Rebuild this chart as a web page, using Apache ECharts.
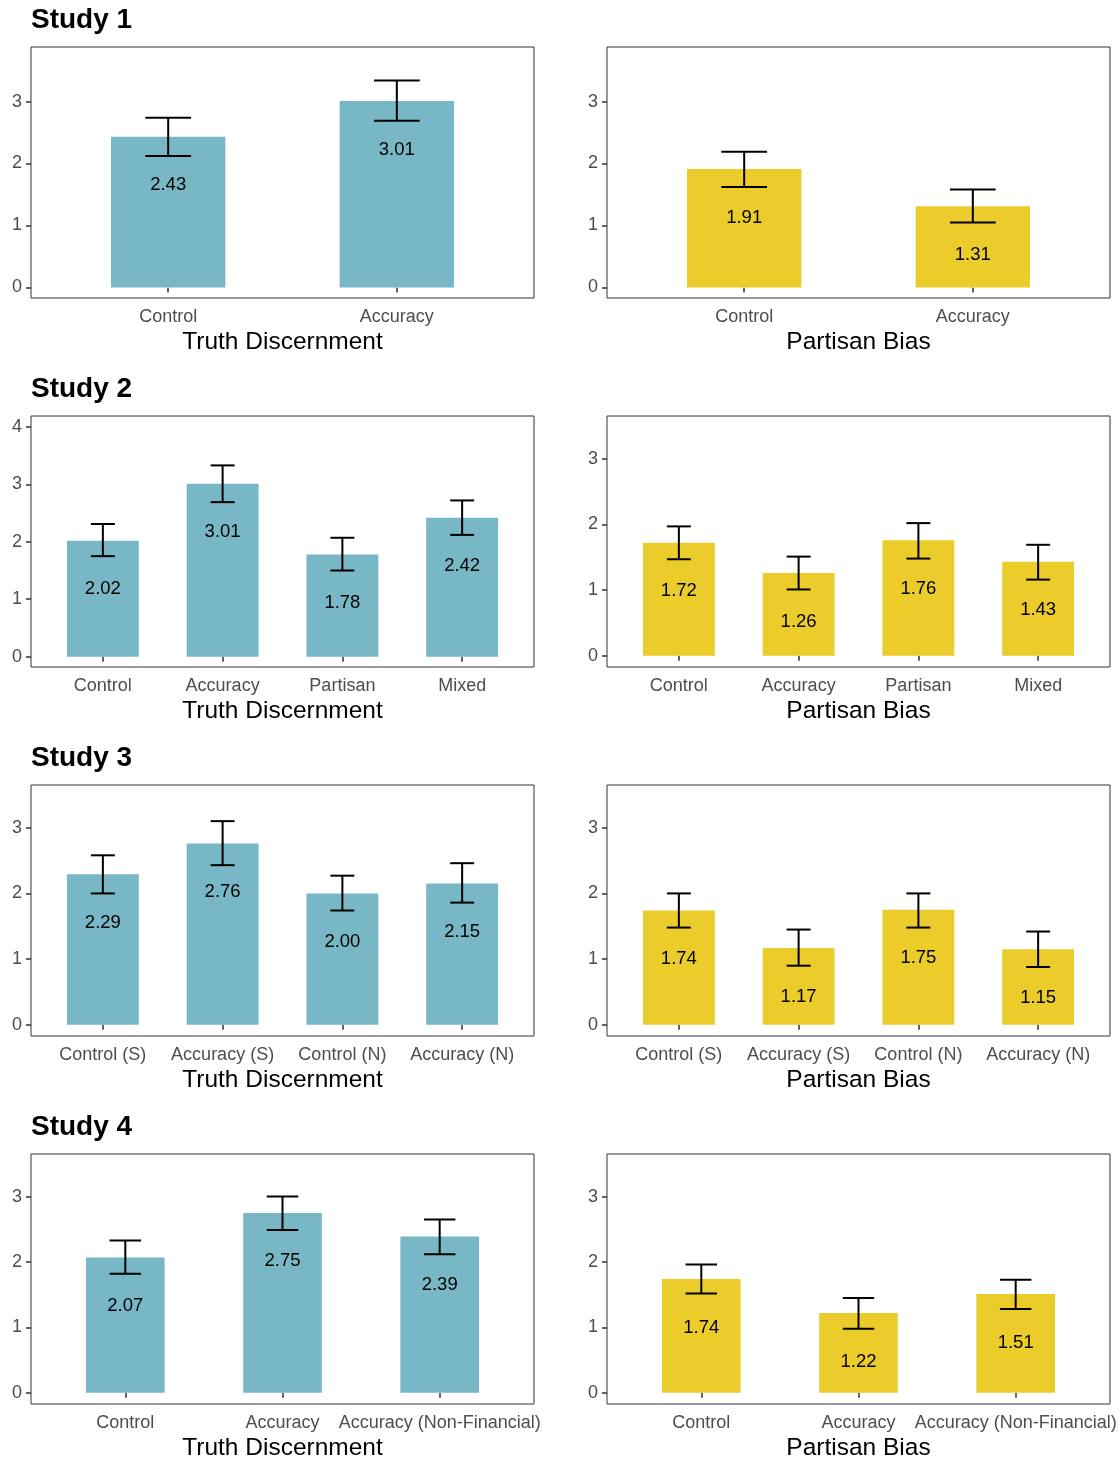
<!DOCTYPE html>
<html>
<head>
<meta charset="utf-8">
<title>Truth discernment and partisan bias by study</title>
<script src="https://cdn.jsdelivr.net/npm/echarts@6/dist/echarts.min.js"></script>
<style>
  html, body { margin: 0; padding: 0; background: #ffffff; }
  #chart { width: 1120px; height: 1462px; }
</style>
</head>
<body>
<div id="chart"></div>
<script>
// ---- Study 1 ----
const s1Groups = ['Control', 'Accuracy'];
const s1TruthMean = [2.43, 3.01];
const s1TruthLow = [2.12, 2.69];
const s1TruthHigh = [2.74, 3.34];
const s1BiasMean = [1.91, 1.31];
const s1BiasLow = [1.62, 1.05];
const s1BiasHigh = [2.19, 1.58];

// ---- Study 2 ----
const s2Groups = ['Control', 'Accuracy', 'Partisan', 'Mixed'];
const s2TruthMean = [2.02, 3.01, 1.78, 2.42];
const s2TruthLow = [1.75, 2.69, 1.50, 2.12];
const s2TruthHigh = [2.31, 3.33, 2.07, 2.72];
const s2BiasMean = [1.72, 1.26, 1.76, 1.43];
const s2BiasLow = [1.47, 1.01, 1.48, 1.16];
const s2BiasHigh = [1.97, 1.51, 2.02, 1.69];

// ---- Study 3 ----
const s3Groups = ['Control (S)', 'Accuracy (S)', 'Control (N)', 'Accuracy (N)'];
const s3TruthMean = [2.29, 2.76, 2.00, 2.15];
const s3TruthLow = [2.00, 2.43, 1.74, 1.86];
const s3TruthHigh = [2.58, 3.10, 2.27, 2.46];
const s3BiasMean = [1.74, 1.17, 1.75, 1.15];
const s3BiasLow = [1.48, 0.90, 1.48, 0.88];
const s3BiasHigh = [2.00, 1.45, 2.00, 1.42];

// ---- Study 4 ----
const s4Groups = ['Control', 'Accuracy', 'Accuracy (Non-Financial)'];
const s4TruthMean = [2.07, 2.75, 2.39];
const s4TruthLow = [1.82, 2.49, 2.12];
const s4TruthHigh = [2.33, 3.00, 2.65];
const s4BiasMean = [1.74, 1.22, 1.51];
const s4BiasLow = [1.52, 0.98, 1.28];
const s4BiasHigh = [1.96, 1.45, 1.73];

// y-axis tick labels
const ticks0to3 = [0, 1, 2, 3];
const ticks0to4 = [0, 1, 2, 3, 4];

const studyTitles = ['Study 1', 'Study 2', 'Study 3', 'Study 4'];
const truthTitle = 'Truth Discernment';
const biasTitle = 'Partisan Bias';

const TEAL = '#78B7C5';
const YELLOW = '#EBCC2A';
const FONT = '"Liberation Sans", Arial, Helvetica, sans-serif';

// one entry per panel: which study row, which column, data and y range
const panels = [
  { row: 0, col: 0, groups: s1Groups, mean: s1TruthMean, lo: s1TruthLow, hi: s1TruthHigh, color: TEAL, name: truthTitle, ymin: -0.17, ymax: 3.88, ticks: ticks0to3, bw: 0.5 },
  { row: 0, col: 1, groups: s1Groups, mean: s1BiasMean, lo: s1BiasLow, hi: s1BiasHigh, color: YELLOW, name: biasTitle, ymin: -0.17, ymax: 3.88, ticks: ticks0to3, bw: 0.5 },
  { row: 1, col: 0, groups: s2Groups, mean: s2TruthMean, lo: s2TruthLow, hi: s2TruthHigh, color: TEAL, name: truthTitle, ymin: -0.18, ymax: 4.19, ticks: ticks0to4, bw: 0.6 },
  { row: 1, col: 1, groups: s2Groups, mean: s2BiasMean, lo: s2BiasLow, hi: s2BiasHigh, color: YELLOW, name: biasTitle, ymin: -0.17, ymax: 3.65, ticks: ticks0to3, bw: 0.6 },
  { row: 2, col: 0, groups: s3Groups, mean: s3TruthMean, lo: s3TruthLow, hi: s3TruthHigh, color: TEAL, name: truthTitle, ymin: -0.17, ymax: 3.65, ticks: ticks0to3, bw: 0.6 },
  { row: 2, col: 1, groups: s3Groups, mean: s3BiasMean, lo: s3BiasLow, hi: s3BiasHigh, color: YELLOW, name: biasTitle, ymin: -0.17, ymax: 3.65, ticks: ticks0to3, bw: 0.6 },
  { row: 3, col: 0, groups: s4Groups, mean: s4TruthMean, lo: s4TruthLow, hi: s4TruthHigh, color: TEAL, name: truthTitle, ymin: -0.17, ymax: 3.65, ticks: ticks0to3, bw: 0.5 },
  { row: 3, col: 1, groups: s4Groups, mean: s4BiasMean, lo: s4BiasLow, hi: s4BiasHigh, color: YELLOW, name: biasTitle, ymin: -0.17, ymax: 3.65, ticks: ticks0to3, bw: 0.5 }
];

const ROW_TOP = 47, ROW_STEP = 369, PANEL_H = 251, PANEL_W = 503;
const COL_LEFT = [31, 607];
const CAP = 0.2;          // error-bar cap width in x units
const LABEL_DROP = 48.5;  // value label sits this many px under the bar top

const grids = [], xAxes = [], yAxes = [], series = [];

panels.forEach(function (p, i) {
  const n = p.groups.length;
  const positions = p.groups.map(function (_, k) { return k + 1; });

  grids.push({
    left: COL_LEFT[p.col],
    top: ROW_TOP + p.row * ROW_STEP,
    width: PANEL_W,
    height: PANEL_H,
    show: true,
    borderColor: '#333333',
    borderWidth: 1,
    backgroundColor: '#ffffff'
  });

  xAxes.push({
    type: 'value',
    gridIndex: i,
    min: 0.4,
    max: n + 0.6,
    axisLine: { show: false },
    splitLine: { show: false },
    axisTick: { show: true, length: 5, customValues: positions, lineStyle: { color: '#333333', width: 1.5 } },
    axisLabel: {
      customValues: positions,
      margin: 10,
      color: '#4D4D4D',
      fontSize: 18,
      fontFamily: FONT,
      formatter: function (v) { return p.groups[Math.round(v) - 1]; }
    },
    name: p.name,
    nameLocation: 'middle',
    nameGap: 32,
    nameTextStyle: { color: '#000000', fontSize: 24.5, fontFamily: FONT }
  });

  yAxes.push({
    type: 'value',
    gridIndex: i,
    min: p.ymin,
    max: p.ymax,
    axisLine: { show: false },
    splitLine: { show: false },
    axisTick: { show: true, length: 5, customValues: p.ticks, lineStyle: { color: '#333333', width: 1.5 } },
    axisLabel: {
      customValues: p.ticks,
      margin: 9,
      color: '#4D4D4D',
      fontSize: 18,
      fontFamily: FONT
    }
  });

  const data = positions.map(function (x, k) { return [x, p.mean[k], p.lo[k], p.hi[k]]; });

  series.push({
    type: 'custom',
    xAxisIndex: i,
    yAxisIndex: i,
    data: data,
    clip: false,
    renderItem: function (params, api) {
      const x = api.value(0), v = api.value(1), lo = api.value(2), hi = api.value(3);
      const topLeft = api.coord([x - p.bw / 2, v]);
      const botRight = api.coord([x + p.bw / 2, 0]);
      const top = api.coord([x, hi]);
      const bot = api.coord([x, lo]);
      const capL = api.coord([x - CAP / 2, hi])[0];
      const capR = api.coord([x + CAP / 2, hi])[0];
      const barTop = api.coord([x, v]);
      const line = { stroke: '#000000', lineWidth: 2 };
      return {
        type: 'group',
        children: [
          {
            type: 'rect',
            shape: { x: topLeft[0], y: topLeft[1], width: botRight[0] - topLeft[0], height: botRight[1] - topLeft[1] },
            style: { fill: p.color }
          },
          {
            type: 'text',
            style: {
              x: barTop[0], y: barTop[1] + LABEL_DROP,
              text: v.toFixed(2),
              fill: '#000000',
              fontSize: 18.5,
              fontFamily: FONT,
              align: 'center',
              verticalAlign: 'middle'
            }
          },
          { type: 'line', shape: { x1: top[0], y1: top[1], x2: bot[0], y2: bot[1] }, style: line },
          { type: 'line', shape: { x1: capL, y1: top[1], x2: capR, y2: top[1] }, style: line },
          { type: 'line', shape: { x1: capL, y1: bot[1], x2: capR, y2: bot[1] }, style: line }
        ]
      };
    }
  });
});

const titles = studyTitles.map(function (t, r) {
  return {
    text: t,
    left: 31,
    top: ROW_TOP + r * ROW_STEP - 41,
    padding: 0,
    textStyle: { color: '#000000', fontSize: 28, fontWeight: 'bold', fontFamily: FONT }
  };
});

const chart = echarts.init(document.getElementById('chart'), null, { renderer: 'canvas' });
chart.setOption({
  backgroundColor: '#ffffff',
  animation: false,
  title: titles,
  grid: grids,
  xAxis: xAxes,
  yAxis: yAxes,
  series: series
});
</script>
</body>
</html>
